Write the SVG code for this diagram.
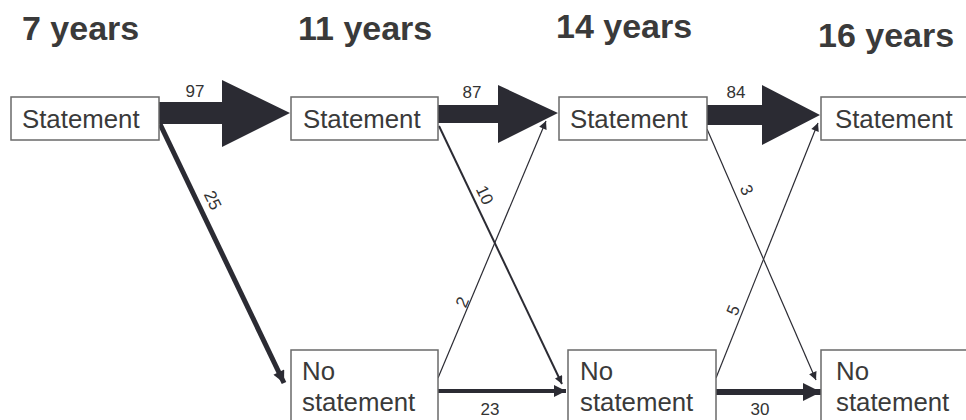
<svg xmlns="http://www.w3.org/2000/svg" width="966" height="420" viewBox="0 0 966 420">
<style>
.box{fill:#fff;stroke:#6a6a6a;stroke-width:1.5}
.t{font-family:"Liberation Sans",Arial,sans-serif;font-size:25.8px;fill:#3a3a3a}
.h{font-family:"Liberation Sans",Arial,sans-serif;font-size:34px;font-weight:bold;fill:#3a3a3a}
.n{font-family:"Liberation Sans",Arial,sans-serif;font-size:17px;fill:#333}
.big{fill:#2b2b33}
.ln{stroke:#2b2b33;fill:none}
</style>
<defs>
<marker id="ahT" markerUnits="userSpaceOnUse" viewBox="0 0 10 10" refX="10" refY="5" markerWidth="14" markerHeight="12" orient="auto"><path d="M0,0L10,5L0,10z" fill="#2b2b33"/></marker>
<marker id="ahM" markerUnits="userSpaceOnUse" viewBox="0 0 10 10" refX="10" refY="5" markerWidth="20" markerHeight="18" orient="auto"><path d="M0,0L10,5L0,10z" fill="#2b2b33"/></marker>
<marker id="ahS" markerUnits="userSpaceOnUse" viewBox="0 0 10 10" refX="10" refY="5" markerWidth="9" markerHeight="8" orient="auto"><path d="M0,0L10,5L0,10z" fill="#2b2b33"/></marker>
</defs>
<rect width="966" height="420" fill="#fff"/>
<g id="headers">
<text class="h" x="22" y="40">7 years</text>
<text class="h" x="298" y="40">11 years</text>
<text class="h" x="556" y="38">14 years</text>
<text class="h" x="818" y="47">16 years</text>
</g>
<g id="connectors">
<polygon class="big" points="158,102 222,102 222,80 290,113 222,147 222,124 158,124"/>
<polygon class="big" points="438,105 498,105 498,85 558,113 498,143 498,123 438,123"/>
<polygon class="big" points="707,105 762,105 762,85 820,115 762,145 762,125 707,125"/>
<line class="ln" x1="160" y1="124" x2="284" y2="383" stroke-width="5" marker-end="url(#ahT)"/>
<line class="ln" x1="439" y1="126" x2="562" y2="384" stroke-width="2" marker-end="url(#ahS)"/>
<line class="ln" x1="438" y1="378" x2="546" y2="121" stroke-width="1.2" marker-end="url(#ahS)"/>
<line class="ln" x1="438" y1="391" x2="566" y2="391" stroke-width="4" marker-end="url(#ahT)"/>
<line class="ln" x1="707" y1="129" x2="816" y2="380" stroke-width="1.2" marker-end="url(#ahS)"/>
<line class="ln" x1="716" y1="378" x2="818" y2="123" stroke-width="1.2" marker-end="url(#ahS)"/>
<line class="ln" x1="716" y1="392" x2="821" y2="392" stroke-width="6" marker-end="url(#ahM)"/>
<text class="n" x="195" y="97" text-anchor="middle">97</text>
<text class="n" x="472" y="98" text-anchor="middle">87</text>
<text class="n" x="736" y="98" text-anchor="middle">84</text>
<text class="n" x="490" y="415" text-anchor="middle">23</text>
<text class="n" x="760" y="415" text-anchor="middle">30</text>
<text class="n" text-anchor="middle" transform="translate(213,200) rotate(64)" y="6">25</text>
<text class="n" text-anchor="middle" transform="translate(485,195) rotate(64.5)" y="6">10</text>
<text class="n" text-anchor="middle" transform="translate(462,302) rotate(-67)" y="6">2</text>
<text class="n" text-anchor="middle" transform="translate(747,190) rotate(66)" y="6">3</text>
<text class="n" text-anchor="middle" transform="translate(733,310) rotate(-68)" y="6">5</text>
</g>
<g id="s7"><rect class="box" x="11" y="97" width="148" height="43"/><text class="t" x="22" y="128">Statement</text></g>
<g id="s11"><rect class="box" x="291" y="97" width="147" height="43"/><text class="t" x="303" y="128">Statement</text></g>
<g id="s14"><rect class="box" x="559" y="97" width="148" height="43"/><text class="t" x="570" y="128">Statement</text></g>
<g id="s16"><rect class="box" x="821" y="97" width="150" height="43"/><text class="t" x="835" y="128">Statement</text></g>
<g id="n11"><rect class="box" x="291" y="350" width="147" height="80"/><text class="t" x="302" y="380">No</text><text class="t" x="302" y="411">statement</text></g>
<g id="n14"><rect class="box" x="568" y="350" width="148" height="80"/><text class="t" x="580" y="380">No</text><text class="t" x="580" y="411">statement</text></g>
<g id="n16"><rect class="box" x="821" y="350" width="150" height="80"/><text class="t" x="836" y="380">No</text><text class="t" x="836" y="411">statement</text></g>
</svg>
